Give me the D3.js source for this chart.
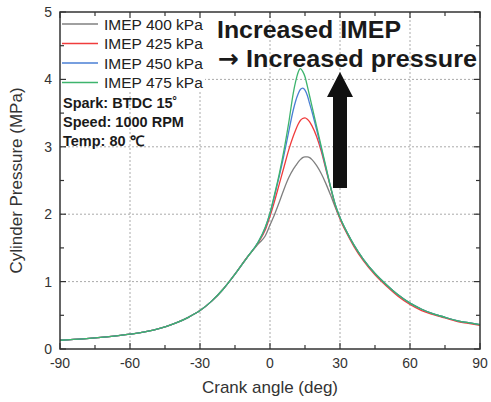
<!DOCTYPE html>
<html>
<head>
<meta charset="utf-8">
<script src="https://cdnjs.cloudflare.com/ajax/libs/d3/7.8.5/d3.min.js"></script>
<style>
  body { margin: 0; background: #fff; }
  svg { font-family: "Liberation Sans", Arial, sans-serif; }
</style>
</head>
<body>
<svg id="chart" width="491" height="402"></svg>
<script>
// crank angle (deg) samples
var angles = [-90,-80,-70,-60,-50,-40,-35,-30,-25,-20,-15,-10,-5,-2,0,2,4,6,8,10,11,12,13,14,15,16,17,18,20,22,24,26,28,30,33,36,40,45,50,55,60,65,70,75,80,85,90]

// cylinder pressure (MPa) per IMEP
var p400 = [0.13,0.15,0.18,0.22,0.28,0.39,0.47,0.57,0.71,0.89,1.11,1.35,1.56,1.68,1.84,2.00,2.18,2.37,2.54,2.67,2.72,2.77,2.81,2.84,2.85,2.85,2.84,2.81,2.72,2.60,2.45,2.28,2.10,1.94,1.73,1.54,1.33,1.12,0.95,0.80,0.68,0.59,0.52,0.47,0.42,0.39,0.36]
var p425 = [0.13,0.15,0.18,0.22,0.28,0.39,0.47,0.57,0.71,0.89,1.11,1.35,1.58,1.77,1.97,2.20,2.45,2.70,2.95,3.16,3.25,3.33,3.39,3.42,3.43,3.41,3.37,3.31,3.15,2.93,2.66,2.39,2.12,1.93,1.71,1.52,1.31,1.10,0.93,0.78,0.66,0.57,0.51,0.46,0.41,0.38,0.35]
var p450 = [0.13,0.15,0.18,0.22,0.28,0.39,0.47,0.57,0.71,0.89,1.11,1.35,1.59,1.80,2.01,2.28,2.57,2.88,3.22,3.55,3.68,3.78,3.85,3.87,3.84,3.76,3.64,3.52,3.25,2.97,2.68,2.40,2.14,1.95,1.73,1.54,1.33,1.12,0.95,0.80,0.68,0.59,0.52,0.47,0.42,0.39,0.36]
var p475 = [0.13,0.15,0.18,0.22,0.28,0.39,0.47,0.57,0.71,0.89,1.11,1.35,1.59,1.81,2.02,2.30,2.60,2.95,3.35,3.80,3.97,4.10,4.16,4.12,4.04,3.90,3.75,3.60,3.30,3.00,2.70,2.40,2.14,1.95,1.73,1.54,1.33,1.12,0.95,0.80,0.68,0.59,0.52,0.47,0.42,0.39,0.36]

var seriesNames = ['IMEP 400 kPa', 'IMEP 425 kPa', 'IMEP 450 kPa', 'IMEP 475 kPa']
var seriesColors = ['#808080', '#f03c3c', '#4a7fd4', '#3db46d']
var seriesValues = [p400, p425, p450, p475]

var xTicks = [-90, -60, -30, 0, 30, 60, 90]
var yTicks = [0, 1, 2, 3, 4, 5]
var conditions = ['Spark: BTDC 15˚', 'Speed: 1000 RPM', 'Temp: 80 ℃']
// arrow: at 30 deg, from 2.39 MPa up to 4.11 MPa
var arrowAt = 30, arrowFrom = 2.39, arrowHead = 3.74, arrowTo = 4.11

var margin = { top: 12, right: 11, bottom: 53, left: 60 }
var width = 491 - margin.left - margin.right
var height = 402 - margin.top - margin.bottom

var svg = d3.select('#chart')
var g = svg.append('g')
  .attr('transform', 'translate(' + margin.left + ',' + margin.top + ')')

var x = d3.scaleLinear().domain([-90, 90]).range([0, width])
var y = d3.scaleLinear().domain([0, 5]).range([height, 0])

// grid
g.append('g').selectAll('line')
  .data(xTicks.slice(1, -1))
  .enter().append('line')
  .attr('x1', d => x(d)).attr('x2', d => x(d))
  .attr('y1', 0).attr('y2', height)
  .attr('stroke', '#aaa').attr('stroke-width', 1)
  .attr('stroke-dasharray', '2,2')
g.append('g').selectAll('line')
  .data(yTicks.slice(1, -1))
  .enter().append('line')
  .attr('y1', d => y(d)).attr('y2', d => y(d))
  .attr('x1', 0).attr('x2', width)
  .attr('stroke', '#aaa').attr('stroke-width', 1)
  .attr('stroke-dasharray', '2,2')

// curves
var line = d3.line()
  .x(function (d) { return x(d[0]) })
  .y(function (d) { return y(d[1]) })
  .curve(d3.curveMonotoneX)

seriesValues.forEach(function (vals, i) {
  g.append('path')
    .datum(angles.map(function (a, j) { return [a, vals[j]] }))
    .attr('fill', 'none')
    .attr('stroke', seriesColors[i])
    .attr('stroke-width', 1.3)
    .attr('d', line)
})

// legend (white box over the grid)
var legend = g.append('g')
legend.append('rect')
  .attr('x', 1).attr('y', 1)
  .attr('width', 144).attr('height', 79)
  .attr('fill', '#fff')
seriesNames.forEach(function (name, i) {
  var ly = 12 + i * 19.5
  legend.append('line')
    .attr('x1', 2).attr('x2', 38)
    .attr('y1', ly).attr('y2', ly)
    .attr('stroke', seriesColors[i]).attr('stroke-width', 1.3)
  legend.append('text')
    .attr('x', 44).attr('y', ly + 5.5)
    .attr('font-size', 15.5)
    .attr('fill', '#222')
    .text(name)
})

// condition text
g.append('g').selectAll('text')
  .data(conditions)
  .enter().append('text')
  .attr('x', 3)
  .attr('y', (d, i) => 96 + i * 19)
  .attr('font-size', 14.5)
  .attr('font-weight', 'bold')
  .attr('fill', '#1a1a1a')
  .text(d => d)

// annotation
var note = g.append('g')
  .attr('font-size', 24.5)
  .attr('font-weight', 'bold')
  .attr('fill', '#1a1a1a')
note.append('text')
  .attr('x', 157).attr('y', 26)
  .attr('textLength', 184)
  .attr('lengthAdjust', 'spacingAndGlyphs')
  .text('Increased IMEP')
var note2 = note.append('text')
  .attr('x', 158).attr('y', 55)
  .attr('textLength', 259)
  .attr('lengthAdjust', 'spacingAndGlyphs')
note2.append('tspan')
  .attr('font-family', 'DejaVu Sans')
  .text('→')
note2.append('tspan').text(' Increased pressure')

var ax = x(arrowAt)
g.append('path')
  .attr('d', [
    'M', ax - 7, y(arrowFrom),
    'L', ax - 7, y(arrowHead),
    'L', ax - 13, y(arrowHead),
    'L', ax, y(arrowTo),
    'L', ax + 13, y(arrowHead),
    'L', ax + 7, y(arrowHead),
    'L', ax + 7, y(arrowFrom), 'Z'].join(' '))
  .attr('fill', '#111')

// frame + ticks (inward on all four sides)
var minorX = d3.range(-90, 91, 15)
var minorY = d3.range(0, 5.01, 0.5)
var ticks = g.append('g').attr('stroke', '#333').attr('stroke-width', 1.2)
minorX.forEach(function (d) {
  var len = d % 30 === 0 ? 6 : 4
  ticks.append('line').attr('x1', x(d)).attr('x2', x(d)).attr('y1', height).attr('y2', height - len)
  ticks.append('line').attr('x1', x(d)).attr('x2', x(d)).attr('y1', 0).attr('y2', len)
})
minorY.forEach(function (d) {
  var len = d % 1 === 0 ? 6 : 4
  ticks.append('line').attr('y1', y(d)).attr('y2', y(d)).attr('x1', 0).attr('x2', len)
  ticks.append('line').attr('y1', y(d)).attr('y2', y(d)).attr('x1', width).attr('x2', width - len)
})
g.append('rect')
  .attr('width', width).attr('height', height)
  .attr('fill', 'none').attr('stroke', '#333').attr('stroke-width', 1.5)

// tick labels
g.append('g').selectAll('text')
  .data(xTicks)
  .enter().append('text')
  .attr('x', d => x(d))
  .attr('y', height + 19)
  .attr('text-anchor', 'middle')
  .attr('font-size', 14)
  .attr('fill', '#333')
  .text(d => d)
g.append('g').selectAll('text')
  .data(yTicks)
  .enter().append('text')
  .attr('x', -8)
  .attr('y', d => y(d) + 5)
  .attr('text-anchor', 'end')
  .attr('font-size', 14)
  .attr('fill', '#333')
  .text(d => d)

// axis titles
g.append('text')
  .attr('x', width / 2)
  .attr('y', height + 44)
  .attr('text-anchor', 'middle')
  .attr('font-size', 17)
  .attr('fill', '#333')
  .text('Crank angle (deg)')
g.append('text')
  .attr('transform', 'translate(' + (-38) + ',' + (height / 2) + ') rotate(-90)')
  .attr('text-anchor', 'middle')
  .attr('font-size', 17)
  .attr('fill', '#333')
  .text('Cylinder Pressure (MPa)')
</script>
</body>
</html>
